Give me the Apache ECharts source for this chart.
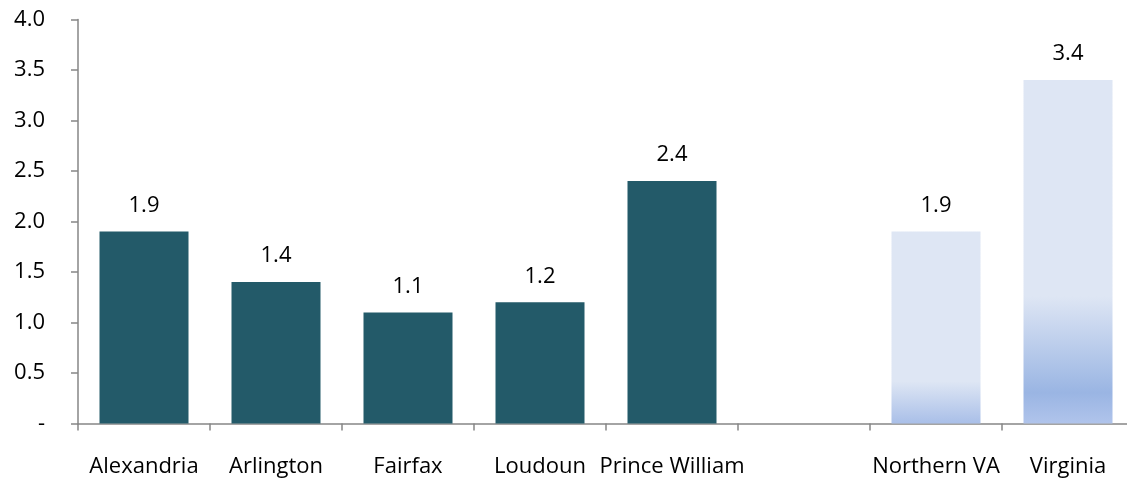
<!DOCTYPE html>
<html><head><meta charset="utf-8">
<script src="https://cdn.jsdelivr.net/npm/echarts@6/dist/echarts.min.js"></script>
<style>html,body{margin:0;padding:0;background:#fff}#c{width:1127px;height:478px}</style>
</head><body><div id="c"></div>
<script>
const categories = ['Alexandria','Arlington','Fairfax','Loudoun','Prince William','','Northern VA','Virginia'];
const values = [1.9, 1.4, 1.1, 1.2, 2.4, null, 1.9, 3.4];
const yTickLabels = ['-','0.5','1.0','1.5','2.0','2.5','3.0','3.5','4.0'];

const dark = '#235a69';
function grad(stops){ return {type:'linear',x:0,y:0,x2:0,y2:1,colorStops:stops}; }
const styles = [null,null,null,null,null,null,
  grad([{offset:0,color:'#dee6f4'},{offset:0.78,color:'#dee6f4'},{offset:1,color:'#a9bfe8'}]),
  grad([{offset:0,color:'#dee6f4'},{offset:0.63,color:'#dee6f4'},{offset:0.91,color:'#9ab5e3'},{offset:1,color:'#b0c4eb'}])
];
const data = values.map((v,i)=>({value:v,itemStyle:{color: styles[i] || dark}}));
const font = '"Open Sans", sans-serif';
const chart = echarts.init(document.getElementById('c'));
chart.setOption({
  animation:false,
  grid:{left:78,width:1056,top:19.5,bottom:54.5,containLabel:false,outerBoundsMode:'none'},
  xAxis:{type:'category',data:categories,
    axisLine:{lineStyle:{color:'#868686',width:1.5}},
    axisTick:{show:true,length:7,alignWithLabel:false,lineStyle:{color:'#868686',width:1.5}},
    axisLabel:{color:'#000',fontSize:22,fontFamily:font,margin:32,interval:0}},
  yAxis:{type:'value',min:0,max:4,interval:0.5,
    axisLine:{show:true,lineStyle:{color:'#868686',width:1.5}},
    axisTick:{show:true,length:7,lineStyle:{color:'#868686',width:1.5}},
    splitLine:{show:false},
    axisLabel:{color:'#000',fontSize:22,fontFamily:font,margin:33,align:'right',
      formatter:v=>yTickLabels[Math.round(v/0.5)]}},
  series:[{type:'bar',data:data,barWidth:89,
    label:{show:true,position:'top',distance:15,color:'#000',fontSize:22,fontFamily:font,
      formatter:p=>p.value==null?'':p.value.toFixed(1)}}]
});
</script></body></html>
